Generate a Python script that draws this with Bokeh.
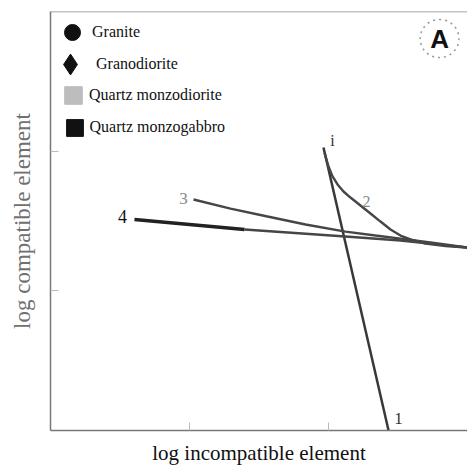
import numpy as np
from bokeh.plotting import figure
from bokeh.models import (Range1d, FixedTicker, CustomJSTickFormatter, Legend,
                          LegendItem, Label, Span)
from bokeh.embed import file_html
from bokeh.resources import INLINE

# Model trajectories in log(incompatible) vs log(compatible) space
curve1_x = [1.964, 2.432]
curve1_y = [2.026, 0.0]

curve2_x = [1.971, 2.0, 2.029, 2.065, 2.108, 2.158, 2.230, 2.302, 2.374, 2.446,
            2.518, 2.590, 2.698, 2.842, 3.0]
curve2_y = [1.990, 1.890, 1.819, 1.762, 1.711, 1.668, 1.611, 1.554, 1.496, 1.439,
            1.396, 1.368, 1.339, 1.321, 1.31]

curve3_x = [1.029, 1.295, 1.561, 1.835, 2.122, 2.338, 2.518, 2.734, 3.0]
curve3_y = [1.654, 1.589, 1.532, 1.475, 1.424, 1.396, 1.374, 1.346, 1.31]

curve4_x = [0.604, 1.396, 2.122, 2.518, 3.0]
curve4_y = [1.510, 1.439, 1.389, 1.36, 1.31]

# Rock types in the key (no samples plotted on this panel)
rock_types = ["Granite", "Granodiorite", "Quartz monzodiorite", "Quartz monzogabbro"]
rock_markers = ["circle", "diamond", "square", "square"]
rock_colors = ["#111111", "#111111", "#bdbdbd", "#111111"]

x_ticks = [1, 2]
y_ticks = [1, 2]

SERIF = "Liberation Serif"
CURVE = "#464646"

p = figure(width=467, height=471, output_backend="svg", toolbar_location=None,
           x_range=Range1d(0, 3), y_range=Range1d(0, 3),
           min_border_left=50, min_border_right=0, min_border_top=11,
           min_border_bottom=41)
p.outline_line_color = None
p.grid.visible = False
p.background_fill_color = "white"
p.border_fill_color = "white"

blank = CustomJSTickFormatter(code="return ''")
for ax, ticks in ((p.xaxis[0], x_ticks), (p.yaxis[0], y_ticks)):
    ax.ticker = FixedTicker(ticks=ticks)
    ax.formatter = blank
    ax.major_tick_in = 8
    ax.major_tick_out = 0
    ax.minor_tick_line_color = None
    ax.major_tick_line_color = "#bbbbbb"
    ax.axis_line_color = "#777777"
    ax.axis_line_width = 1.5
    ax.major_label_standoff = 0
    ax.axis_label_text_font = SERIF
    ax.axis_label_text_font_style = "normal"

p.xaxis.axis_label = "log incompatible element"
p.xaxis.axis_label_text_color = "#111111"
p.xaxis.axis_label_text_font_size = "21px"
p.xaxis.axis_label_standoff = 10
p.yaxis.axis_label = "log compatible element"
p.yaxis.axis_label_text_color = "#707070"
p.yaxis.axis_label_text_font_size = "23px"
p.yaxis.axis_label_standoff = 16

# top border of the frame
p.add_layout(Span(location=3, dimension="width", line_color="#888888", line_width=1.5))

# model curves
p.line(curve1_x, curve1_y, line_color="#383838", line_width=2.5)
p.line(curve2_x, curve2_y, line_color=CURVE, line_width=2.4)
p.line(curve3_x, curve3_y, line_color=CURVE, line_width=2.4)
p.line(curve4_x[1:], curve4_y[1:], line_color=CURVE, line_width=2.5)
p.line(curve4_x[:2], curve4_y[:2], line_color="#222222", line_width=3.5)

# curve numbers
curve_labels = [("i", 2.029, 2.076, "#333333", "16px"),
                ("1", 2.504, 0.086, "#333333", "17px"),
                ("2", 2.273, 1.639, "#888888", "16px"),
                ("3", 0.957, 1.661, "#888888", "17px"),
                ("4", 0.518, 1.532, "#111111", "18px")]
for txt, lx, ly, col, fs in curve_labels:
    p.add_layout(Label(x=lx, y=ly, text=txt, text_align="center",
                       text_baseline="middle", text_font=SERIF,
                       text_font_size=fs, text_color=col))

# panel tag
p.add_layout(Label(x=2.799, y=2.806, text="A", text_align="center",
                   text_baseline="middle", text_font="Liberation Sans",
                   text_font_style="bold", text_font_size="26px",
                   text_color="#111111", border_line_color="#999999",
                   border_line_dash="dotted", border_line_width=1.5,
                   border_radius=19, padding=(10, 4)))

# key: one single-entry legend per rock type so each symbol keeps its own size
frame_bottom = 430
frame_left = 50
row_y = [32, 64, 95, 127]
sym_size = [16, 21, 18, 17]
sym_x = [72, 70, 73, 74]
for name, mk, col, cy, sx, sz in zip(rock_types, rock_markers, rock_colors,
                                     row_y, sym_x, sym_size):
    if mk == "square":
        # area glyphs fill 80% of the legend glyph box
        r = p.block(x=np.array([np.nan]), y=np.array([np.nan]), width=0, height=0,
                    fill_color=col, line_color=col)
        box = int(round(sz / 0.8))
        standoff = 5
    else:
        # markers are drawn at 40% of the legend glyph box
        r = p.scatter(x=np.array([np.nan]), y=np.array([np.nan]), marker=mk,
                      size=sz, fill_color=col, line_color=col)
        box = int(round(sz / 0.4))
        standoff = 0
    leg = Legend(items=[LegendItem(label=name, renderers=[r])],
                 location=(sx - box / 2 - frame_left, frame_bottom - cy - box / 2),
                 glyph_width=box, glyph_height=box, padding=0, margin=0,
                 spacing=0, label_standoff=standoff,
                 border_line_color=None, background_fill_alpha=0,
                 label_text_font=SERIF, label_text_font_size="16px",
                 label_text_color="#111111")
    p.add_layout(leg)

open("out.html", "w").write(file_html(p, INLINE))
